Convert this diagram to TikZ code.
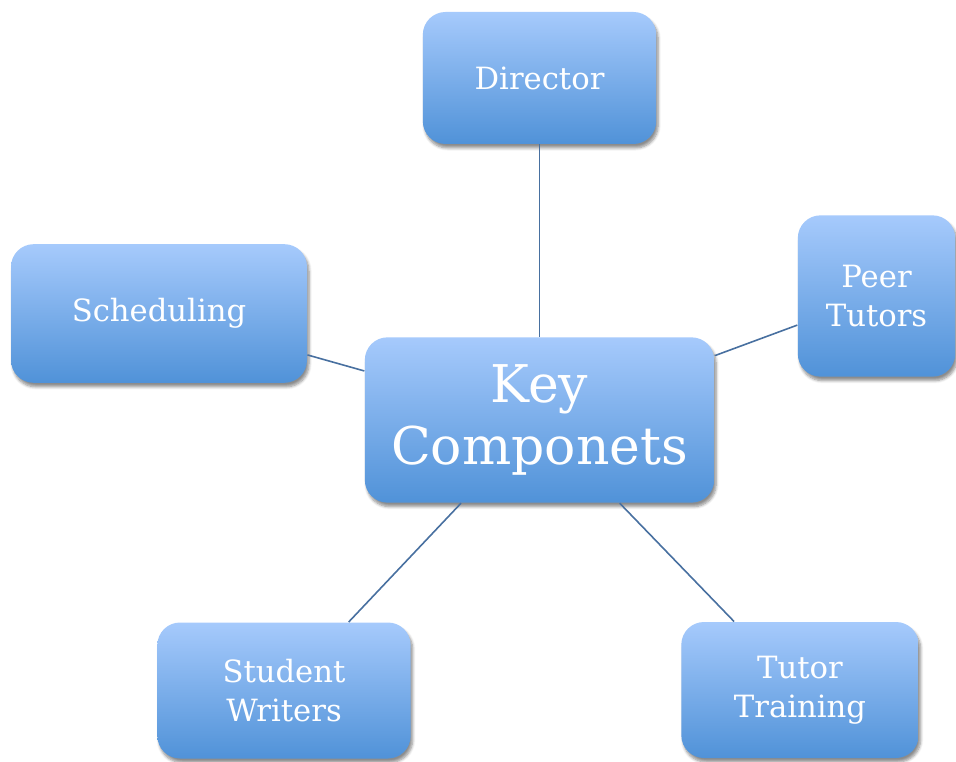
\documentclass[tikz,border=0pt]{standalone}
\usepackage{fontspec}
\setmainfont{DejaVu Serif}
\usetikzlibrary{shadows.blur}

\definecolor{boxtop}{RGB}{166,202,252}
\definecolor{boxbottom}{RGB}{80,146,216}
\definecolor{linkblue}{RGB}{72,112,160}

\tikzset{every picture/.style={line width=0.75pt}}

\begin{document}
\begin{tikzpicture}[
            x=0.75pt,
            y=0.75pt,
            yscale=-1,
            xscale=1,
            part/.style={rounded corners=17pt, top color=boxtop, bottom color=boxbottom,
                draw=none, text=white, align=center, inner sep=2pt,
                font=\fontsize{23}{29}\selectfont,
                blur shadow={shadow xshift=1.5pt, shadow yshift=-3pt, shadow blur steps=6, shadow opacity=45}},
            hub/.style={part, font=\fontsize{39}{46}\selectfont},
            link/.style={draw=linkblue, line width=1.2pt}
        ]
            \useasboundingbox (0,0) rectangle (956,762);
            % middle box and the five parts round it
            \node [hub, minimum width=262pt, minimum height=124pt] (key) at (539.5,420) {Key\\Componets};
            \node [part, minimum width=175pt, minimum height=99pt] (director) at (539.5,78) {Director};
            \node [part, minimum width=222pt, minimum height=104pt] (sched) at (159,313.5) {Scheduling};
            \node [part, minimum width=118pt, minimum height=121pt] (peer) at (876.5,296) {Peer\\Tutors};
            \node [part, minimum width=190pt, minimum height=102pt] (student) at (284,690.5) {Student\\Writers};
            \node [part, minimum width=178pt, minimum height=102pt] (training) at (800,690) {Tutor\\Training};
            % links
            \draw [link] (key) -- (director);
            \draw [link] (key) -- (sched);
            \draw [link] (key) -- (peer);
            \draw [link] (key) -- (student);
            \draw [link] (key) -- (training);
        \end{tikzpicture}
\end{document}
